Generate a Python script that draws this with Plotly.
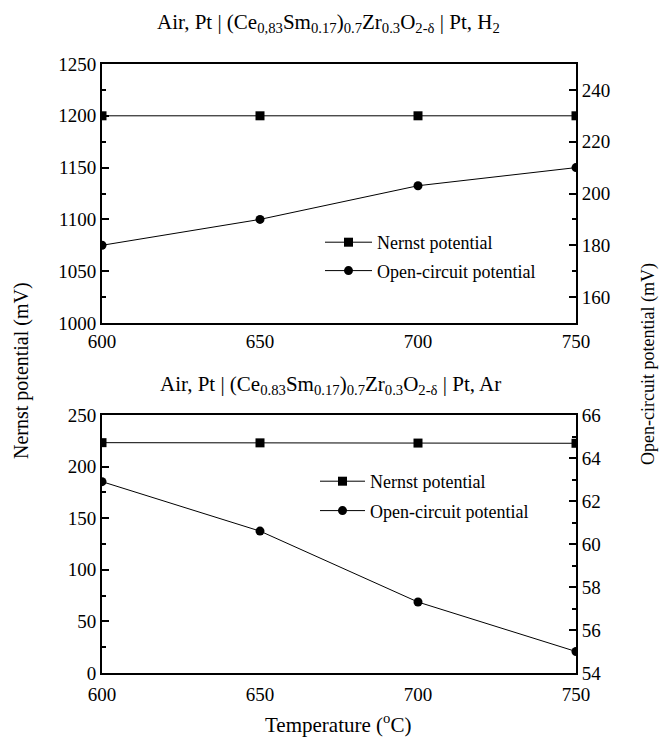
import plotly.graph_objects as go

# Temperatures (°C) and measured potentials (mV)
temps = [600, 650, 700, 750]
h2_nernst = [1200, 1200, 1200, 1200]
h2_ocp = [180, 190, 203, 210]
ar_nernst = [223.2, 223.0, 222.8, 222.6]
ar_ocp = [62.9, 60.6, 57.3, 55.0]

x_ticks = [600, 650, 700, 750]

FONT = "Liberation Serif, Times New Roman, serif"
W, H = 660, 738

def px_x(p):
    return p / W

def px_y(p):
    return 1 - p / H

fig = go.Figure()

line = dict(color="black", width=1)

# Upper panel: air / H2
fig.add_trace(go.Scatter(x=temps, y=h2_nernst, xaxis="x2", yaxis="y3", mode="lines+markers",
                         name="Nernst potential", line=line,
                         marker=dict(symbol="square", size=9, color="black"),
                         legend="legend", legendgroup="a"))
fig.add_trace(go.Scatter(x=temps, y=h2_ocp, xaxis="x2", yaxis="y4", mode="lines+markers",
                         name="Open-circuit potential", line=line,
                         marker=dict(symbol="circle", size=9, color="black"),
                         legend="legend", legendgroup="b"))

# Lower panel: air / Ar
fig.add_trace(go.Scatter(x=temps, y=ar_nernst, xaxis="x", yaxis="y", mode="lines+markers",
                         name="Nernst potential", line=line,
                         marker=dict(symbol="square", size=9, color="black"),
                         legend="legend2", legendgroup="c"))
fig.add_trace(go.Scatter(x=temps, y=ar_ocp, xaxis="x", yaxis="y2", mode="lines+markers",
                         name="Open-circuit potential", line=line,
                         marker=dict(symbol="circle", size=9, color="black"),
                         legend="legend2", legendgroup="d"))

xdom = [px_x(102), px_x(576)]
top_dom = [px_y(323), px_y(64)]
bot_dom = [px_y(673), px_y(415)]

tickfont = dict(family=FONT, size=19, color="black")

def xaxis(anchor, standoff=0):
    return dict(domain=xdom, range=[600, 750], tickvals=x_ticks, showline=True,
                linecolor="black", linewidth=2, mirror=True, ticks="", showgrid=False,
                zeroline=False, tickfont=tickfont, anchor=anchor, automargin=False,
                ticklabelstandoff=standoff)

def yaxis(domain, rng, dtick, tick0, minor_dtick, side, overlay=None, anchor=None):
    d = dict(domain=domain, range=rng, dtick=dtick, tick0=tick0, showline=True,
             linecolor="black", linewidth=2, ticks="inside", ticklen=7, tickwidth=2,
             tickcolor="black", showgrid=False, zeroline=False, tickfont=tickfont,
             side=side, automargin=False,
             minor=dict(dtick=minor_dtick, tick0=tick0, ticks="inside",
                        ticklen=4, tickwidth=2, tickcolor="black", showgrid=False))
    if overlay:
        d["overlaying"] = overlay
    if anchor:
        d["anchor"] = anchor
    return d

legend_font = dict(family=FONT, size=18, color="black")

fig.update_layout(
    template="none",
    width=W, height=H,
    margin=dict(l=0, r=0, t=0, b=0, pad=0, autoexpand=False),
    paper_bgcolor="white", plot_bgcolor="white",
    font=dict(family=FONT, color="black"),
    xaxis=xaxis("y", standoff=3),
    yaxis=yaxis(bot_dom, [0, 250], 50, 0, 25, "left", anchor="x"),
    yaxis2=yaxis(bot_dom, [54, 66], 2, 54, 1, "right", overlay="y", anchor="x"),
    xaxis2=xaxis("y3"),
    yaxis3=yaxis(top_dom, [1000, 1250], 50, 1000, 25, "left", anchor="x2"),
    yaxis4=yaxis(top_dom, [150, 250], 20, 160, 10, "right", overlay="y3", anchor="x2"),
    legend=dict(x=px_x(320), y=px_y(224), xanchor="left", yanchor="top",
                font=legend_font, bgcolor="rgba(0,0,0,0)", borderwidth=0,
                traceorder="grouped", tracegroupgap=2, itemwidth=47),
    legend2=dict(x=px_x(315), y=px_y(463), xanchor="left", yanchor="top",
                 font=legend_font, bgcolor="rgba(0,0,0,0)", borderwidth=0,
                 traceorder="grouped", tracegroupgap=3, itemwidth=45),
    showlegend=True,
)

title_font = dict(family=FONT, size=21, color="black")
fig.add_annotation(text="Air, Pt | (Ce<sub>0,83</sub>Sm<sub>0.17</sub>)<sub>0.7</sub>Zr<sub>0.3</sub>O<sub>2-δ</sub> | Pt, H<sub>2</sub>",
                   x=px_x(328), y=px_y(23), xref="paper", yref="paper", showarrow=False,
                   font=title_font, xanchor="center", yanchor="middle")
fig.add_annotation(text="Air, Pt | (Ce<sub>0.83</sub>Sm<sub>0.17</sub>)<sub>0.7</sub>Zr<sub>0.3</sub>O<sub>2-δ</sub> | Pt, Ar",
                   x=px_x(330), y=px_y(385), xref="paper", yref="paper", showarrow=False,
                   font=title_font, xanchor="center", yanchor="middle")

fig.add_annotation(text="Temperature (<sup>o</sup>C)",
                   x=px_x(338), y=px_y(723), xref="paper", yref="paper", showarrow=False,
                   font=dict(family=FONT, size=21, color="black"), xanchor="center", yanchor="middle")
fig.add_annotation(text="Nernst potential (mV)", textangle=-90,
                   x=px_x(21), y=px_y(371), xref="paper", yref="paper", showarrow=False,
                   font=dict(family=FONT, size=20, color="black"), xanchor="center", yanchor="middle")
fig.add_annotation(text="Open-circuit potential (mV)", textangle=-90,
                   x=px_x(648), y=px_y(364), xref="paper", yref="paper", showarrow=False,
                   font=dict(family=FONT, size=18, color="black"), xanchor="center", yanchor="middle")

fig.write_html("out.html")
